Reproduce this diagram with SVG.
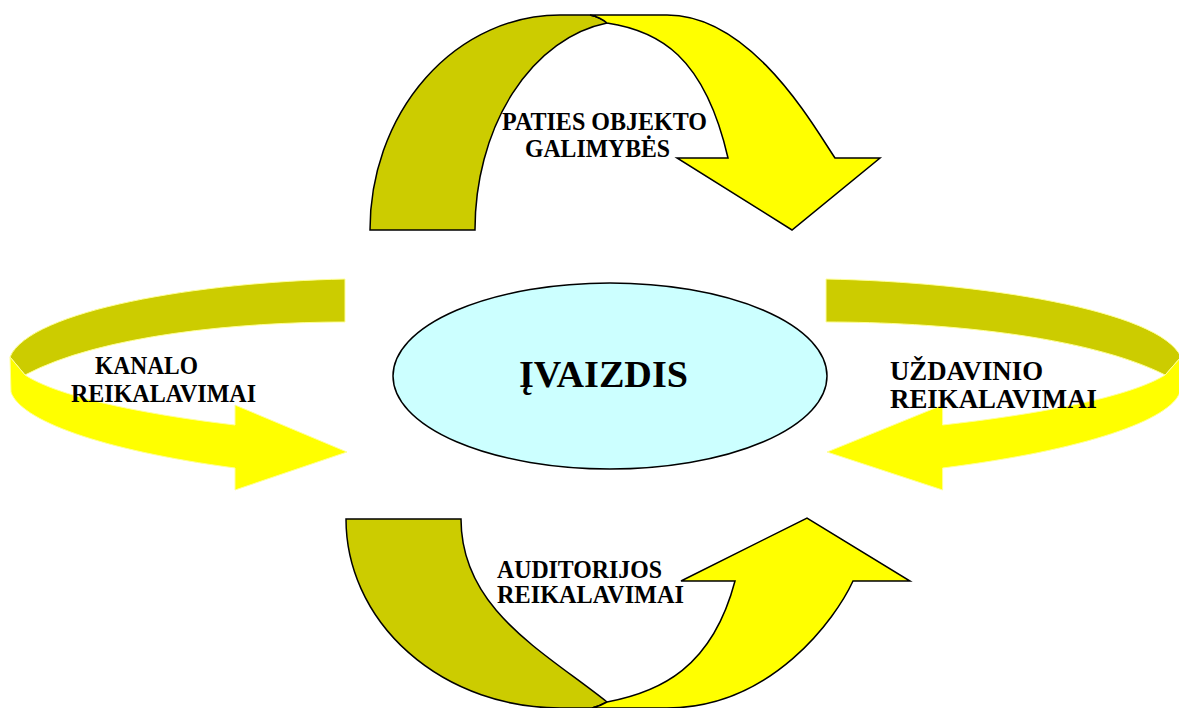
<svg xmlns="http://www.w3.org/2000/svg" width="1179" height="708" viewBox="0 0 1179 708">
  <style>
    .back { fill: #CCCC00; }
    .front { fill: #FFFF00; }
    .outlined { stroke: #000000; stroke-width: 1.5; stroke-linejoin: miter; }
    .soft { stroke: #FFFF99; stroke-width: 1; stroke-linejoin: round; }
    .label { font-family: "Liberation Serif", "Times New Roman", serif; font-weight: bold; fill: #000000; }
  </style>

  <rect x="0" y="0" width="1179" height="708" fill="#FFFFFF"/>

  <!-- curved arrows around the central ellipse -->
  <g id="arrows">
    <!-- top: rises on the left, comes down on the right -->
    <g id="arrow-top">
      <path class="back outlined" d="M370,230 A190,215 0 0 1 560,15 L590,15 Q600,17 607,23 A155,209 0 0 0 475,230 Z"/>
      <path class="front outlined" d="M590,15 L667,15 C752,15 814,127 835,158 L880,158 L792,230 L677,158 L728,158 C704.5,55.7 658.5,30.7 607,23 Q600,17 590,15 Z"/>
    </g>

    <!-- left: ribbon loop pointing right -->
    <g id="arrow-left">
      <path class="back soft" d="M345,279 C200,282 30,310 10,357 L25,375 C100,335 240,322 345,322 Z"/>
      <path class="front soft" d="M10,357 L11,392 C20,420 100,450 235,468 L235,490 L347,452 L235,405 L235,425 C150,415 60,398 25,375 Z"/>
    </g>

    <!-- right: ribbon loop pointing left -->
    <g id="arrow-right">
      <path class="back soft" d="M826,279 C979.7,282 1159.9,310 1181,357 L1165.2,375 C1085.7,335 937.3,322 826,322 Z"/>
      <path class="front soft" d="M1181,357 L1180,392 C1170.5,420 1085.7,450 942.6,468 L942.6,490 L827,452 L942.6,405 L942.6,425 C1032.7,415 1128.1,398 1165.2,375 Z"/>
    </g>

    <!-- bottom: drops on the left, rises on the right -->
    <g id="arrow-bottom">
      <path class="back outlined" d="M346,519 L461,519 C461,609 543,651 607,702 Q600,706 592,708 L560,708 A214,189 0 0 1 346,519 Z"/>
      <path class="front outlined" d="M607,702 C660,692 712,668 735,581 L681,581 L807,518 L910,581 L853,581 C836,618 772,708 667,708 L592,708 Q600,706 607,702 Z"/>
    </g>
  </g>

  <!-- central node -->
  <g id="node-image">
    <ellipse cx="610" cy="376" rx="217" ry="93" fill="#CCFFFF" stroke="#000000" stroke-width="1.5"/>
    <text class="label" x="519" y="387" font-size="38" textLength="169" lengthAdjust="spacingAndGlyphs">ĮVAIZDIS</text>
  </g>

  <!-- labels of the four influences -->
  <g id="label-top">
    <text class="label" x="502" y="130" font-size="25" textLength="205" lengthAdjust="spacingAndGlyphs">PATIES OBJEKTO</text>
    <text class="label" x="525" y="157" font-size="25" textLength="145" lengthAdjust="spacingAndGlyphs">GALIMYBĖS</text>
  </g>
  <g id="label-left">
    <text class="label" x="95" y="374" font-size="25" textLength="103" lengthAdjust="spacingAndGlyphs">KANALO</text>
    <text class="label" x="71" y="402" font-size="25" textLength="185" lengthAdjust="spacingAndGlyphs">REIKALAVIMAI</text>
  </g>
  <g id="label-right">
    <text class="label" x="890" y="380" font-size="27" textLength="153" lengthAdjust="spacingAndGlyphs">UŽDAVINIO</text>
    <text class="label" x="890" y="408" font-size="27" textLength="207" lengthAdjust="spacingAndGlyphs">REIKALAVIMAI</text>
  </g>
  <g id="label-bottom">
    <text class="label" x="497" y="578" font-size="25" textLength="165" lengthAdjust="spacingAndGlyphs">AUDITORIJOS</text>
    <text class="label" x="497" y="603" font-size="25" textLength="187" lengthAdjust="spacingAndGlyphs">REIKALAVIMAI</text>
  </g>
</svg>
